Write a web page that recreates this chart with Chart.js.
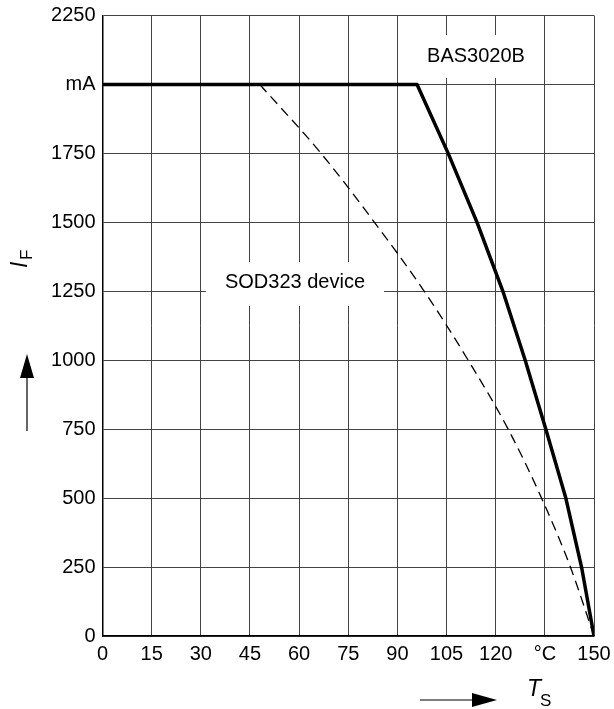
<!DOCTYPE html>
<html>
<head>
<meta charset="utf-8">
<script src="https://cdn.jsdelivr.net/npm/chart.js@4"></script>
<style>
  html, body { margin: 0; padding: 0; background: #fff; }
  #wrap { width: 614px; height: 709px; position: relative; }
</style>
</head>
<body>
<div id="wrap"><canvas id="chart"></canvas></div>
<script>
// Courbe BAS3020B (trait plein)
const basTemp = [0, 96, 105.5, 114.3, 122.2, 129, 135.3, 141.4, 146.2, 150];
const basCurrent = [2000, 2000, 1750, 1500, 1250, 1000, 750, 500, 250, 0];

// Courbe SOD323 device (pointillés)
const sodTemp = [48, 66.7, 83, 98.2, 111.6, 123.8, 134, 142.8, 150];
const sodCurrent = [2000, 1750, 1500, 1250, 1000, 750, 500, 250, 0];

// Graduations
const xTicks = [0, 15, 30, 45, 60, 75, 90, 105, 120, 135, 150];
const xTickLabels = ['0', '15', '30', '45', '60', '75', '90', '105', '120', '°C', '150'];
const yTicks = [0, 250, 500, 750, 1000, 1250, 1500, 1750, 2000, 2250];
const yTickLabels = ['0', '250', '500', '750', '1000', '1250', '1500', '1750', 'mA', '2250'];

const FONT = 'Liberation Sans, Arial, sans-serif';

function toPoints(xs, ys) {
    return xs.map((x, i) => ({ x: x, y: ys[i] }));
}

// Textes, boites blanches et fleches
const annotations = {
    id: 'annotations',
    beforeDatasetsDraw(chart) {
        const ctx = chart.ctx;
        ctx.save();
        ctx.fillStyle = '#fff';
        // masque derriere les etiquettes
        ctx.fillRect(402, 35, 140, 43);
        ctx.fillRect(206, 262, 178, 44);
        ctx.restore();
    },
    afterDraw(chart) {
        const ctx = chart.ctx;
        ctx.save();
        ctx.fillStyle = '#000';
        ctx.strokeStyle = '#000';
        ctx.font = '20px ' + FONT;
        ctx.textAlign = 'center';
        ctx.textBaseline = 'middle';
        ctx.fillText('BAS3020B', 476, 56);
        ctx.fillText('SOD323 device', 295, 282);

        // T_S
        ctx.textAlign = 'left';
        ctx.textBaseline = 'alphabetic';
        ctx.font = 'italic 23px ' + FONT;
        ctx.fillText('T', 527, 696);
        ctx.font = '17px ' + FONT;
        ctx.fillText('S', 540, 706);

        // fleche horizontale
        ctx.lineWidth = 1.2;
        ctx.beginPath();
        ctx.moveTo(420, 700);
        ctx.lineTo(476, 700);
        ctx.stroke();
        ctx.beginPath();
        ctx.moveTo(497, 700);
        ctx.lineTo(472, 693);
        ctx.lineTo(472, 707);
        ctx.closePath();
        ctx.fill();

        // I_F vertical
        ctx.save();
        ctx.translate(27, 268);
        ctx.rotate(-Math.PI / 2);
        ctx.font = 'italic 23px ' + FONT;
        ctx.fillText('I', 0, 0);
        ctx.font = '17px ' + FONT;
        ctx.fillText('F', 8, 5);
        ctx.restore();

        // fleche verticale
        ctx.beginPath();
        ctx.moveTo(27, 431);
        ctx.lineTo(27, 374);
        ctx.stroke();
        ctx.beginPath();
        ctx.moveTo(27, 354);
        ctx.lineTo(20, 378);
        ctx.lineTo(34, 378);
        ctx.closePath();
        ctx.fill();
        ctx.restore();
    }
};

document.addEventListener('DOMContentLoaded', () => {
    const canvas = document.getElementById('chart');
    new Chart(canvas, {
        type: 'scatter',
        data: {
            datasets: [
                {
                    label: 'BAS3020B',
                    data: toPoints(basTemp, basCurrent),
                    showLine: true,
                    borderColor: '#000',
                    borderWidth: 3.5,
                    pointRadius: 0,
                    tension: 0,
                    borderJoinStyle: 'round'
                },
                {
                    label: 'SOD323 device',
                    data: toPoints(sodTemp, sodCurrent),
                    showLine: true,
                    borderColor: '#000',
                    borderWidth: 1.3,
                    borderDash: [10, 6],
                    pointRadius: 0,
                    cubicInterpolationMode: 'monotone'
                }
            ]
        },
        options: {
            responsive: true,
            maintainAspectRatio: false,
            animation: false,
            layout: { padding: { left: 0, right: 20, top: 15.5, bottom: 0 } },
            plugins: {
                legend: { display: false },
                tooltip: { enabled: false }
            },
            scales: {
                x: {
                    type: 'linear',
                    min: 0,
                    max: 150,
                    afterBuildTicks: (axis) => {
                        axis.ticks = xTicks.map(v => ({ value: v }));
                    },
                    afterFit: (axis) => {
                        axis.height = 73;
                        axis.paddingRight = 0;
                    },
                    ticks: {
                        color: '#000',
                        font: { family: FONT, size: 20 },
                        padding: 6,
                        maxRotation: 0,
                        callback: (v) => {
                            const i = xTicks.indexOf(v);
                            return i >= 0 ? xTickLabels[i] : '';
                        }
                    },
                    grid: { color: '#444', lineWidth: 1, drawTicks: false },
                    border: { color: '#000', width: 1.5 }
                },
                y: {
                    type: 'linear',
                    min: 0,
                    max: 2250,
                    afterBuildTicks: (axis) => {
                        axis.ticks = yTicks.map(v => ({ value: v }));
                    },
                    afterFit: (axis) => {
                        axis.width = 102.5;
                        axis.paddingTop = 0;
                        axis.paddingBottom = 0;
                    },
                    ticks: {
                        color: '#000',
                        font: { family: FONT, size: 20 },
                        padding: 7,
                        callback: (v) => {
                            const i = yTicks.indexOf(v);
                            return i >= 0 ? yTickLabels[i] : '';
                        }
                    },
                    grid: { color: '#444', lineWidth: 1, drawTicks: false },
                    border: { color: '#000', width: 1.5 }
                }
            }
        },
        plugins: [annotations]
    });
});
</script>
</body>
</html>
